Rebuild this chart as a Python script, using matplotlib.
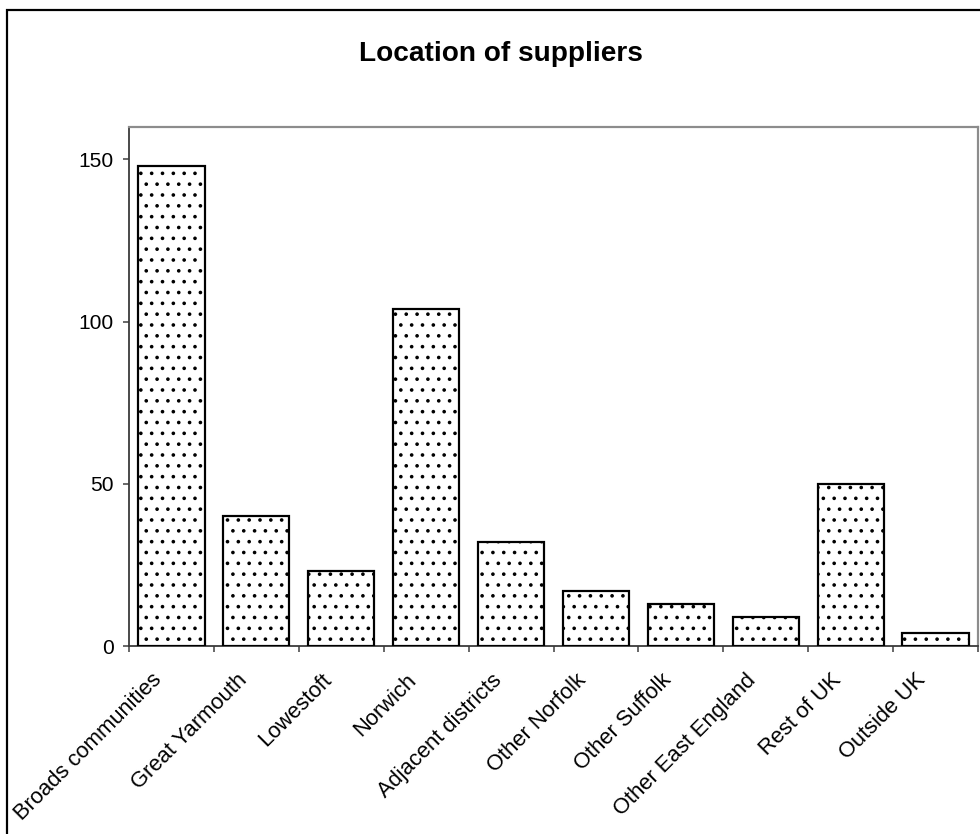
import matplotlib
matplotlib.use("Agg")
import matplotlib.pyplot as plt
from matplotlib.patches import Rectangle

# Supplier counts by location
categories = [
    "Broads communities", "Great Yarmouth", "Lowestoft", "Norwich",
    "Adjacent districts", "Other Norfolk", "Other Suffolk",
    "Other East England", "Rest of UK", "Outside UK",
]
suppliers = [148, 40, 23, 104, 32, 17, 13, 9, 50, 4]
y_ticks = [0, 50, 100, 150]

DPI = 130
W, H = 980, 834


def px(v):
    """Convert pixels to points at the figure dpi."""
    return v * 72.0 / DPI


plt.rcParams["font.family"] = ["Liberation Sans", "DejaVu Sans"]
plt.rcParams["hatch.linewidth"] = 0.8
plt.rcParams["hatch.color"] = "black"

fig = plt.figure(figsize=(W / DPI, H / DPI), dpi=DPI)
fig.patch.set_facecolor("white")

left, right, top, bottom = 129, 978, 127, 646
ax = fig.add_axes([left / W, 1 - bottom / H, (right - left) / W, (bottom - top) / H])

x = list(range(len(categories)))
ax.bar(x, suppliers, width=0.78, color="white", edgecolor="black",
       linewidth=px(2.2), hatch="..", zorder=3)

ax.set_xlim(-0.5, len(categories) - 0.5)
ax.set_ylim(0, 160)

# Axis lines and plot-area frame
for side in ("top", "right"):
    ax.spines[side].set_color("#8c8c8c")
    ax.spines[side].set_linewidth(px(2.2))
for side in ("left", "bottom"):
    ax.spines[side].set_color("#3a3a3a")
    ax.spines[side].set_linewidth(px(1.8))

# Major x ticks sit on category boundaries, labels on category centres
ax.set_xticks([i - 0.5 for i in range(len(categories) + 1)])
ax.set_xticklabels([])
ax.set_xticks([i - 0.15 for i in x], minor=True)
ax.set_xticklabels(categories, minor=True, rotation=45, ha="right",
                   va="center", rotation_mode="anchor", fontsize=px(22))
ax.tick_params(axis="x", which="major", direction="out", length=px(6),
               width=px(1.5), color="#3a3a3a")
ax.tick_params(axis="x", which="minor", length=0, pad=px(31))

ax.set_yticks(y_ticks)
ax.set_yticklabels([str(v) for v in y_ticks], fontsize=px(21))
ax.tick_params(axis="y", direction="out", length=px(6), width=px(1.5),
               color="#3a3a3a", pad=px(9))

fig.text(501 / W, 1 - 61 / H, "Location of suppliers", ha="center",
         va="baseline", fontsize=px(28), fontweight="bold")

# Outer chart border
fig.add_artist(Rectangle((7 / W, -0.1), 1.2, (1 - 10 / H) + 0.1,
                         transform=fig.transFigure, fill=False,
                         edgecolor="black", linewidth=px(2.2),
                         clip_on=False))

fig.savefig("out.png", dpi=DPI, facecolor="white")
